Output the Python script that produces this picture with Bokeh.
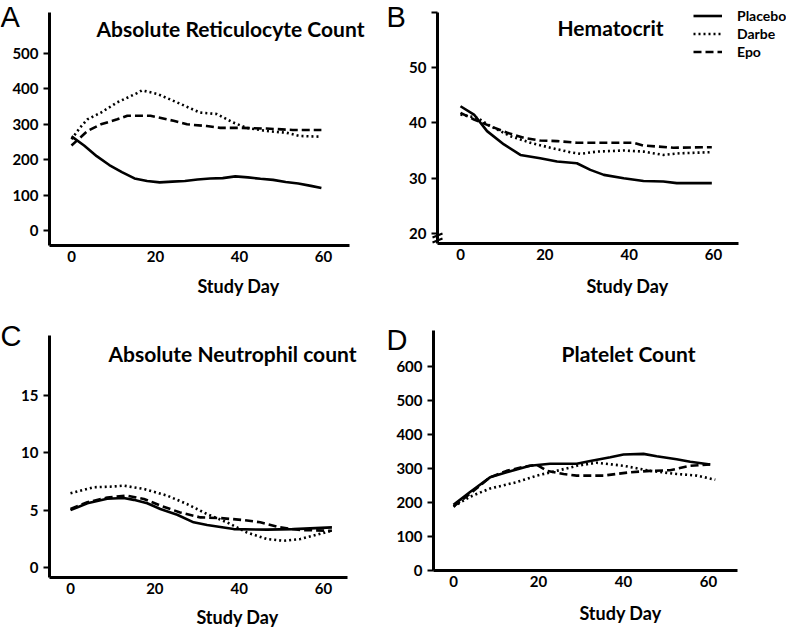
from bokeh.plotting import figure
from bokeh.layouts import column, row
from bokeh.models import Label, Legend, LegendItem, Range1d, FixedTicker
from bokeh.embed import file_html
from bokeh.resources import INLINE

# ---------------- data ----------------
x_ticks = [0, 20, 40, 60]
series_names = ["Placebo", "Darbe", "Epo"]

# A: Absolute Reticulocyte Count
a_pl_day = [0, 3, 6, 9, 12, 15, 18, 21, 24, 27, 30, 33, 36, 39, 42, 45, 48, 51, 54, 57, 59.5]
a_pl_val = [266, 240, 210, 185, 165, 147, 140, 136, 138, 140, 144, 147, 148, 153, 150, 146, 143, 137, 133, 126, 120]
a_da_day = [0, 2, 3.8, 7, 10.9, 15.6, 16.8, 20.4, 25.1, 30.6, 34.6, 38.5, 41.7, 46.4, 51.2, 54.3, 59.5]
a_da_val = [258, 290, 314, 333, 362, 388, 396, 386, 362, 333, 329, 305, 290, 281, 276, 267, 265]
a_ep_day = [0, 3.8, 7, 10.9, 13.3, 18.8, 24.3, 27.5, 32.2, 35.4, 40.1, 46.4, 52.7, 59.5]
a_ep_val = [240, 281, 300, 314, 324, 324, 310, 300, 295, 290, 290, 288, 284, 284]
a_yticks = [0, 100, 200, 300, 400, 500]

# B: Hematocrit
b_pl_day = [0, 3.2, 6.3, 10.3, 14.2, 18.9, 22.9, 27.6, 30.8, 34, 38.7, 43.4, 48.1, 51.3, 59.6]
b_pl_val = [43.0, 41.5, 38.5, 36.1, 34.2, 33.6, 33.0, 32.7, 31.5, 30.6, 30.0, 29.5, 29.4, 29.1, 29.1]
b_da_day = [0, 4, 7.1, 11.8, 16.6, 21.3, 26, 28.4, 32.4, 38.7, 43.4, 48.1, 52.1, 59.6]
b_da_val = [41.5, 40.9, 39.4, 37.6, 36.4, 35.5, 34.7, 34.4, 34.8, 35.0, 34.8, 34.2, 34.5, 34.7]
b_ep_day = [0, 3.2, 7.1, 11.1, 15, 18.9, 22.9, 27.6, 35.5, 41, 43.4, 50.5, 59.6]
b_ep_val = [41.8, 40.6, 39.4, 38.2, 37.3, 36.8, 36.7, 36.4, 36.4, 36.4, 35.9, 35.5, 35.6]
b_yticks = [20, 30, 40, 50, 60]

# C: Absolute Neutrophil count
c_pl_day = [0, 4, 8.7, 12.6, 15, 18.2, 21.3, 25.3, 29.2, 32.4, 38.7, 46.6, 52.9, 62]
c_pl_val = [5.0, 5.6, 6.0, 6.06, 5.9, 5.6, 5.1, 4.6, 3.94, 3.7, 3.35, 3.3, 3.35, 3.5]
c_da_day = [0, 5.5, 9.5, 12.6, 17.4, 22.9, 27.6, 32.4, 37.1, 41.8, 46.6, 50.5, 54.5, 62]
c_da_val = [6.47, 7.0, 7.05, 7.14, 6.85, 6.27, 5.54, 4.66, 3.94, 3.06, 2.48, 2.33, 2.48, 3.2]
c_ep_day = [0, 4, 8.7, 13.4, 17.4, 21.3, 26, 30.8, 35.5, 41, 45, 49.7, 54.5, 62]
c_ep_val = [5.1, 5.69, 6.1, 6.27, 5.98, 5.4, 4.8, 4.37, 4.31, 4.14, 3.94, 3.5, 3.27, 3.2]
c_yticks = [0, 5, 10, 15]

# D: Platelet Count
d_pl_day = [0, 3.9, 8.6, 12.5, 18, 22.7, 29, 32.2, 36.9, 40, 44.7, 47.8, 52.5, 55.7, 60.4]
d_pl_val = [193, 231, 274, 289, 308, 314, 314, 322, 333, 341, 343, 336, 327, 320, 312]
d_da_day = [0, 3.9, 8.6, 14.9, 19.6, 24.3, 29, 33.7, 40, 46.3, 52.5, 57.3, 61.6]
d_da_val = [188, 217, 241, 260, 279, 293, 308, 317, 308, 293, 284, 279, 267]
d_ep_day = [0, 3.9, 8.6, 12.5, 16.5, 19.6, 22, 25.9, 29, 35.3, 41.6, 46.3, 51, 55.7, 60.4]
d_ep_val = [188, 226, 274, 293, 305, 311, 293, 284, 279, 279, 289, 293, 295, 308, 312]
d_yticks = [0, 100, 200, 300, 400, 500, 600]

FONT = "Lato"
STYLES = {
    "Placebo": dict(line_dash="solid"),
    "Darbe": dict(line_dash="2 3"),
    "Epo": dict(line_dash="8 4"),
}


def lin(p0, v0, p1, v1):
    k = (v1 - v0) / (p1 - p0)
    return lambda p: v0 + (p - p0) * k


class Panel:
    """Figure whose frame fills the whole canvas; axes drawn at fixed locations.
    Layout given in page pixel coordinates (page = screenshot)."""

    def __init__(self, origin, size, xcal, ycal, axis_box, yticks, overrides=None):
        ox, oy = origin
        w, h = size
        self.fx = lin(*xcal)
        self.fy = lin(*ycal)
        fx, fy = self.fx, self.fy
        axl, axt, axr, axb = axis_box
        p = figure(width=w, height=h,
                   x_range=Range1d(fx(ox), fx(ox + w)),
                   y_range=Range1d(fy(oy + h), fy(oy)),
                   output_backend="svg", toolbar_location=None,
                   min_border=0, min_border_left=0, min_border_right=0,
                   min_border_top=0, min_border_bottom=0)
        p.outline_line_color = None
        p.grid.visible = False
        p.background_fill_color = "white"
        p.border_fill_color = "white"
        for ax in (p.xaxis[0], p.yaxis[0]):
            ax.axis_line_width = 3
            ax.axis_line_color = "black"
            ax.major_label_text_font = FONT
            ax.major_label_text_font_style = "bold"
            ax.major_label_text_font_size = "15px"
            ax.major_label_text_color = "black"
            ax.minor_tick_line_color = None
        xa, ya = p.xaxis[0], p.yaxis[0]
        xa.fixed_location = fy(axb)
        xa.bounds = (fx(axl), fx(axr))
        xa.ticker = FixedTicker(ticks=x_ticks)
        xa.major_tick_line_color = None
        xa.major_tick_out = 0
        xa.major_tick_in = 0
        xa.major_label_standoff = 5
        ya.fixed_location = fx(axl)
        ya.bounds = (fy(axb), fy(axt))
        ya.ticker = FixedTicker(ticks=yticks)
        ya.major_tick_line_width = 2
        ya.major_tick_out = 6
        ya.major_tick_in = 0
        ya.major_label_standoff = 5
        if overrides:
            ya.major_label_overrides = overrides
        self.p = p

    def lines(self, data):
        rs = []
        for name, (xs, ys) in zip(series_names, data):
            rs.append(self.p.line(xs, ys, line_color="black", line_width=2.6, **STYLES[name]))
        return rs

    def text(self, px, py, text, size, style="bold", font=FONT, baseline="middle", align="center"):
        self.p.add_layout(Label(x=self.fx(px), y=self.fy(py), text=text, text_font=font,
                                text_font_style=style, text_font_size=size,
                                text_align=align, text_baseline=baseline, text_color="black"))

    def letter(self, px, py, text):
        self.text(px, py, text, "29px", style="normal", font="Liberation Sans",
                  baseline="top", align="left")


LW = 385   # left column width
TH = 310   # top row height
W, H = 786, 627

# ---- Panel A (page px: x 0 at 71, 60 at 323; y 0 at 230, 500 at 53)
A = Panel((0, 0), (LW, TH), (71, 0, 323, 60), (230, 0, 53, 500), (49, 12, 349, 245), a_yticks)
A.lines([(a_pl_day, a_pl_val), (a_da_day, a_da_val), (a_ep_day, a_ep_val)])
A.text(230, 28, "Absolute Reticulocyte Count", "21px")
A.text(238, 285, "Study Day", "18px")
A.letter(0, 0, "A")

# ---- Panel B
B = Panel((LW, 0), (W - LW, TH), (460, 0, 713, 60), (233, 20, 67, 50), (437, 12, 738, 243), b_yticks, {60: ""})
rb = B.lines([(b_pl_day, b_pl_val), (b_da_day, b_da_val), (b_ep_day, b_ep_val)])
B.text(610, 27, "Hematocrit", "21px")
B.text(627, 285, "Study Day", "18px")
B.letter(386, 0, "B")
# axis break mark
B.p.segment(x0=[B.fx(432), B.fx(432)], y0=[B.fy(237), B.fy(242)],
            x1=[B.fx(442), B.fx(442)], y1=[B.fy(233), B.fy(238)],
            line_color="black", line_width=2)
legend = Legend(items=[LegendItem(label=n, renderers=[r]) for n, r in zip(series_names, rb)],
                location=(693 - LW, TH - 60), orientation="vertical")
legend.glyph_width = 29
legend.glyph_height = 17
legend.label_height = 17
legend.label_standoff = 15
legend.spacing = 1
legend.padding = 0
legend.margin = 0
legend.border_line_color = None
legend.background_fill_alpha = 0
legend.label_text_font = FONT
legend.label_text_font_style = "bold"
legend.label_text_font_size = "14px"
legend.label_text_color = "black"
B.p.add_layout(legend)

# ---- Panel C
C = Panel((0, TH), (LW, H - TH), (70, 0, 323, 60), (567, 0, 395, 15), (49, 335, 347, 577), c_yticks)
C.lines([(c_pl_day, c_pl_val), (c_da_day, c_da_val), (c_ep_day, c_ep_val)])
C.text(232, 353, "Absolute Neutrophil count", "21px")
C.text(237, 616, "Study Day", "18px")
C.letter(0, 319, "C")

# ---- Panel D
D = Panel((LW, TH), (W - LW, H - TH), (453, 0, 708, 60), (570, 0, 366, 600), (433, 330, 737, 570), d_yticks)
D.lines([(d_pl_day, d_pl_val), (d_da_day, d_da_val), (d_ep_day, d_ep_val)])
D.text(628, 353, "Platelet Count", "21px")
D.text(620, 612, "Study Day", "18px")
D.letter(386, 323, "D")

layout = column(row(A.p, B.p, spacing=0), row(C.p, D.p, spacing=0), spacing=0)

open("out.html", "w").write(file_html(layout, INLINE))
